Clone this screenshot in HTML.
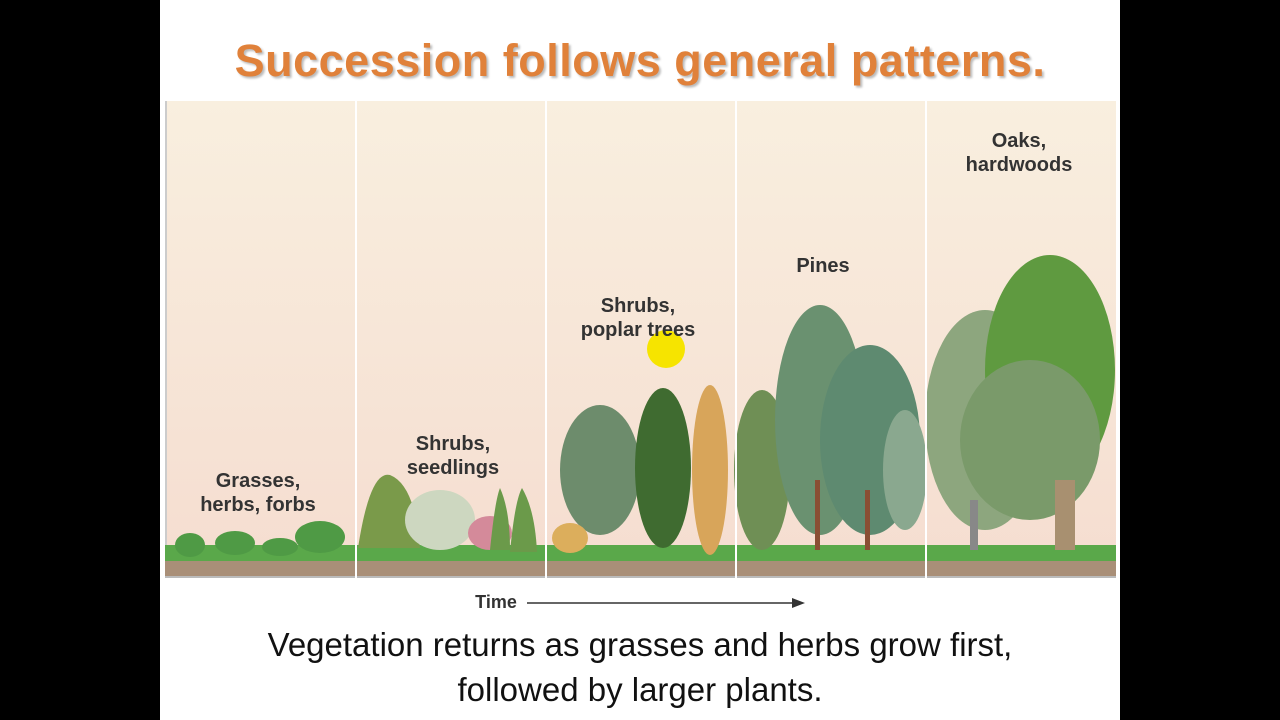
<!DOCTYPE html>
<html><head><style>
body{margin:0;width:1280px;height:720px;background:#000;overflow:hidden;font-family:"Liberation Sans",sans-serif}
#s{position:absolute;left:160px;top:0;width:960px;height:720px;background:#fff}
.t{position:absolute;left:0;width:960px;text-align:center}
</style></head><body>
<div id="s">
<div class="t" style="top:35px;font-size:45px;font-weight:bold;color:#e0813a;text-shadow:2px 2px 2px #bbb;letter-spacing:0.5px">Succession follows general patterns.</div>
<div class="t" style="top:622px;font-size:33px;color:#111;line-height:45px">Vegetation returns as grasses and herbs grow first,<br>followed by larger plants.</div>
</div>
<svg width="1280" height="720" style="position:absolute;left:0;top:0">
<defs><linearGradient id="g" x1="0" y1="0" x2="0" y2="1"><stop offset="0" stop-color="#f9efdf"/><stop offset="1" stop-color="#f5ddd0"/></linearGradient></defs>
<rect x="165" y="101" width="951" height="477" fill="url(#g)"/>
<rect x="165" y="101" width="2" height="477" fill="#ccc"/>
<rect x="165" y="545" width="951" height="18" fill="#5aa84a"/>
<rect x="165" y="561" width="951" height="17" fill="#a98f78"/>
<rect x="165" y="576" width="951" height="2" fill="#bbb"/>
<g fill="#4f9a45"><ellipse cx="190" cy="545" rx="15" ry="12"/><ellipse cx="235" cy="543" rx="20" ry="12"/><ellipse cx="280" cy="547" rx="18" ry="9"/><ellipse cx="320" cy="537" rx="25" ry="16"/></g>
<path d="M358 548 Q370 470 390 475 Q415 485 420 548Z" fill="#7a9a4a"/>
<ellipse cx="440" cy="520" rx="35" ry="30" fill="#cdd7c0"/>
<ellipse cx="490" cy="533" rx="22" ry="17" fill="#d48a9a"/>
<path d="M490 550 Q495 500 500 488 Q510 510 510 550Z" fill="#6b9a4a"/>
<path d="M510 552 Q515 500 522 488 Q535 510 537 552Z" fill="#6b9a4a"/>
<ellipse cx="600" cy="470" rx="40" ry="65" fill="#6d8c6c"/>
<ellipse cx="663" cy="468" rx="28" ry="80" fill="#3f6b30"/>
<ellipse cx="710" cy="470" rx="18" ry="85" fill="#d8a55a"/>
<ellipse cx="570" cy="538" rx="18" ry="15" fill="#dcae5c"/>
<ellipse cx="762" cy="470" rx="28" ry="80" fill="#6f8f55"/>
<ellipse cx="820" cy="420" rx="45" ry="115" fill="#6a9170"/>
<ellipse cx="870" cy="440" rx="50" ry="95" fill="#5e8a70"/>
<ellipse cx="905" cy="470" rx="22" ry="60" fill="#8aa88f"/>
<rect x="815" y="480" width="5" height="70" fill="#8a4e34"/><rect x="865" y="490" width="5" height="60" fill="#8a4e34"/>
<ellipse cx="985" cy="420" rx="60" ry="110" fill="#8da67e"/>
<ellipse cx="1050" cy="370" rx="65" ry="115" fill="#5f9a40"/>
<ellipse cx="1030" cy="440" rx="70" ry="80" fill="#7a9a6a"/>
<rect x="1055" y="480" width="20" height="70" fill="#a89070"/>
<rect x="970" y="500" width="8" height="50" fill="#888"/>
<g fill="#fff"><rect x="355" y="101" width="2" height="477"/><rect x="545" y="101" width="2" height="477"/><rect x="735" y="101" width="2" height="477"/><rect x="925" y="101" width="2" height="477"/></g>
<circle cx="666" cy="349" r="19" fill="#f6e400"/>
<g font-family="Liberation Sans" font-weight="bold" font-size="20" fill="#333" text-anchor="middle">
<text x="258" y="487">Grasses,</text><text x="258" y="511">herbs, forbs</text>
<text x="453" y="450">Shrubs,</text><text x="453" y="474">seedlings</text>
<text x="638" y="312">Shrubs,</text><text x="638" y="336">poplar trees</text>
<text x="823" y="272">Pines</text>
<text x="1019" y="147">Oaks,</text><text x="1019" y="171">hardwoods</text>
<text x="496" y="608" font-size="18">Time</text>
</g>
<line x1="527" y1="603" x2="795" y2="603" stroke="#333" stroke-width="1.5"/>
<path d="M805 603 L792 598 L792 608Z" fill="#333"/>
</svg>
</body></html>
